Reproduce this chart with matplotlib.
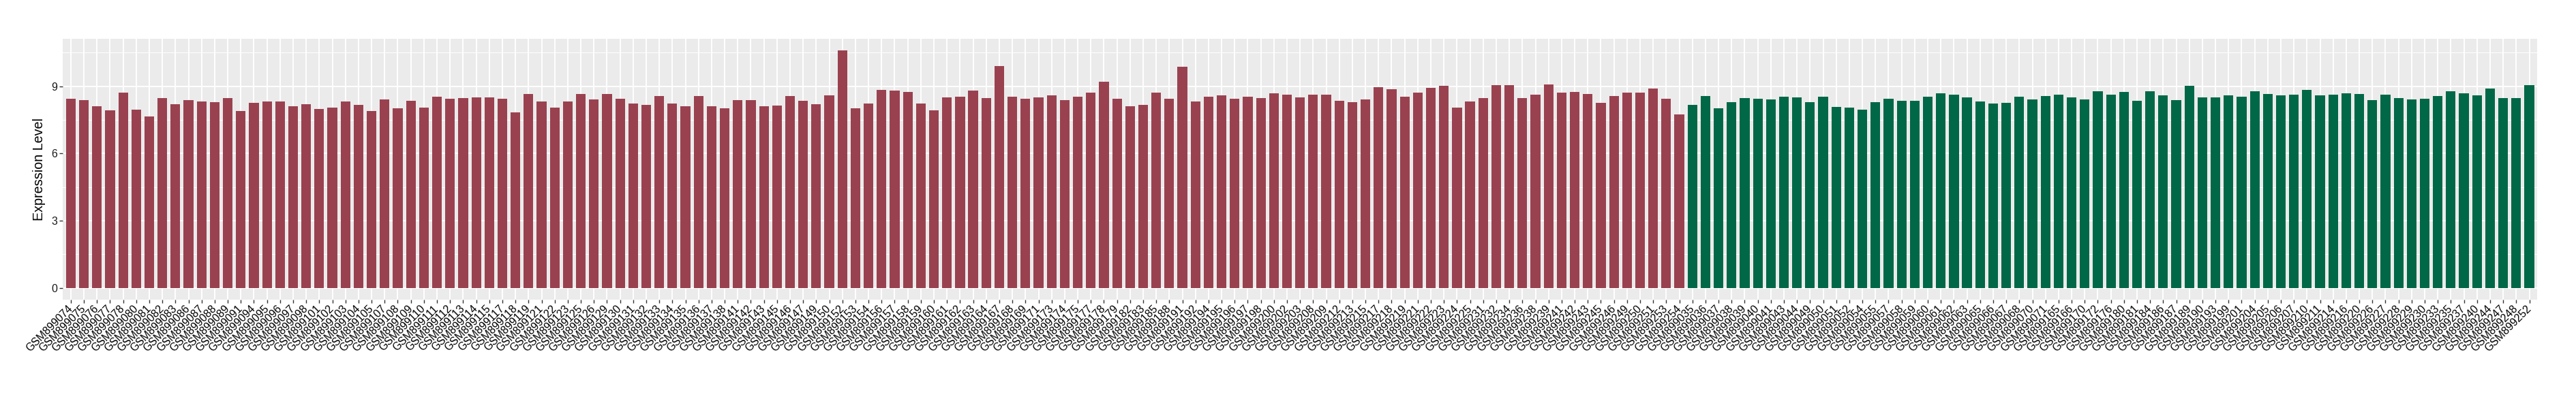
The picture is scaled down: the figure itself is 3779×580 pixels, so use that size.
import matplotlib
matplotlib.use("Agg")
import matplotlib.pyplot as plt
from matplotlib.ticker import FixedLocator

plt.rcParams['font.family'] = ['Liberation Sans', 'DejaVu Sans']

# group 1 (red)
red_samples = [
    'GSM899074', 'GSM899075', 'GSM899076', 'GSM899077', 'GSM899078', 'GSM899080',
    'GSM899081', 'GSM899082', 'GSM899083', 'GSM899086', 'GSM899087', 'GSM899088',
    'GSM899089', 'GSM899091', 'GSM899094', 'GSM899095', 'GSM899096', 'GSM899097',
    'GSM899098', 'GSM899101', 'GSM899102', 'GSM899103', 'GSM899104', 'GSM899105',
    'GSM899107', 'GSM899108', 'GSM899109', 'GSM899110', 'GSM899111', 'GSM899112',
    'GSM899113', 'GSM899114', 'GSM899115', 'GSM899117', 'GSM899118', 'GSM899119',
    'GSM899121', 'GSM899122', 'GSM899123', 'GSM899125', 'GSM899126', 'GSM899129',
    'GSM899130', 'GSM899131', 'GSM899132', 'GSM899133', 'GSM899134', 'GSM899135',
    'GSM899136', 'GSM899137', 'GSM899138', 'GSM899141', 'GSM899142', 'GSM899143',
    'GSM899145', 'GSM899146', 'GSM899147', 'GSM899149', 'GSM899150', 'GSM899152',
    'GSM899153', 'GSM899154', 'GSM899156', 'GSM899157', 'GSM899158', 'GSM899159',
    'GSM899160', 'GSM899161', 'GSM899162', 'GSM899163', 'GSM899164', 'GSM899167',
    'GSM899168', 'GSM899169', 'GSM899171', 'GSM899173', 'GSM899174', 'GSM899175',
    'GSM899177', 'GSM899178', 'GSM899179', 'GSM899182', 'GSM899183', 'GSM899185',
    'GSM899188', 'GSM899191', 'GSM899192', 'GSM899194', 'GSM899195', 'GSM899196',
    'GSM899197', 'GSM899198', 'GSM899200', 'GSM899202', 'GSM899203', 'GSM899208',
    'GSM899209', 'GSM899212', 'GSM899213', 'GSM899215', 'GSM899217', 'GSM899218',
    'GSM899219', 'GSM899221', 'GSM899222', 'GSM899223', 'GSM899224', 'GSM899225',
    'GSM899231', 'GSM899232', 'GSM899234', 'GSM899236', 'GSM899238', 'GSM899239',
    'GSM899241', 'GSM899242', 'GSM899243', 'GSM899245', 'GSM899246', 'GSM899249',
    'GSM899250', 'GSM899251', 'GSM899253', 'GSM899254',
]
red_values = [
    8.44, 8.38, 8.10, 7.92, 8.71, 7.96, 7.65, 8.47, 8.19, 8.38, 8.31, 8.28,
    8.47, 7.89, 8.26, 8.31, 8.31, 8.10, 8.19, 7.98, 8.04, 8.31, 8.17, 7.89,
    8.40, 8.01, 8.35, 8.04, 8.53, 8.44, 8.47, 8.49, 8.49, 8.44, 7.83, 8.65,
    8.31, 8.04, 8.31, 8.65, 8.40, 8.65, 8.44, 8.22, 8.17, 8.56, 8.22, 8.10,
    8.56, 8.10, 8.01, 8.38, 8.38, 8.10, 8.13, 8.56, 8.35, 8.19, 8.60, 10.60,
    8.01, 8.22, 8.83, 8.80, 8.74, 8.22, 7.92, 8.49, 8.53, 8.80, 8.47, 9.90,
    8.53, 8.44, 8.49, 8.60, 8.38, 8.53, 8.71, 9.20, 8.44, 8.10, 8.17, 8.71,
    8.44, 9.87, 8.31, 8.53, 8.60, 8.44, 8.53, 8.47, 8.69, 8.62, 8.49, 8.62,
    8.62, 8.35, 8.28, 8.40, 8.96, 8.87, 8.53, 8.71, 8.92, 9.01, 8.04, 8.31,
    8.47, 9.04, 9.04, 8.47, 8.62, 9.08, 8.71, 8.74, 8.65, 8.26, 8.56, 8.71,
    8.71, 8.90, 8.44, 7.74,
]

# group 2 (green)
green_samples = [
    'GSM899035', 'GSM899036', 'GSM899037', 'GSM899038', 'GSM899039', 'GSM899040',
    'GSM899041', 'GSM899043', 'GSM899044', 'GSM899049', 'GSM899050', 'GSM899051',
    'GSM899052', 'GSM899054', 'GSM899055', 'GSM899057', 'GSM899058', 'GSM899059',
    'GSM899060', 'GSM899061', 'GSM899062', 'GSM899063', 'GSM899065', 'GSM899066',
    'GSM899067', 'GSM899068', 'GSM899070', 'GSM899071', 'GSM899165', 'GSM899166',
    'GSM899170', 'GSM899172', 'GSM899176', 'GSM899180', 'GSM899181', 'GSM899184',
    'GSM899186', 'GSM899187', 'GSM899189', 'GSM899190', 'GSM899193', 'GSM899199',
    'GSM899201', 'GSM899204', 'GSM899205', 'GSM899206', 'GSM899207', 'GSM899210',
    'GSM899211', 'GSM899214', 'GSM899216', 'GSM899220', 'GSM899226', 'GSM899227',
    'GSM899228', 'GSM899229', 'GSM899230', 'GSM899233', 'GSM899235', 'GSM899237',
    'GSM899240', 'GSM899244', 'GSM899247', 'GSM899248', 'GSM899252',
]
green_values = [
    8.17, 8.56, 8.01, 8.28, 8.47, 8.44, 8.40, 8.53, 8.49, 8.28, 8.53, 8.08,
    8.04, 7.96, 8.28, 8.44, 8.35, 8.35, 8.53, 8.69, 8.62, 8.49, 8.31, 8.22,
    8.26, 8.53, 8.40, 8.56, 8.62, 8.49, 8.40, 8.78, 8.62, 8.74, 8.35, 8.78,
    8.60, 8.38, 9.01, 8.49, 8.49, 8.60, 8.53, 8.78, 8.65, 8.60, 8.62, 8.83,
    8.60, 8.62, 8.69, 8.65, 8.38, 8.62, 8.47, 8.40, 8.44, 8.56, 8.78, 8.69,
    8.60, 8.90, 8.47, 8.47, 9.04,
]

y_ticks = [0, 3, 6, 9]
y_minor = [1.5, 4.5, 7.5, 10.5]

red_color = '#9A4150'
green_color = '#006847'

samples = red_samples + green_samples
values = red_values + green_values
colors = [red_color] * len(red_samples) + [green_color] * len(green_samples)
x = list(range(len(samples)))

fig = plt.figure(figsize=(37.8, 5.8), dpi=100)
ax = fig.add_axes([0.02444, 0.2414, 0.98466 - 0.02444, 0.9024 - 0.2414])

ax.set_facecolor('#EBEBEB')
for s in ax.spines.values():
    s.set_visible(False)

ax.bar(x, values, width=0.74, color=colors, zorder=3)

ymax = max(values)
pad = 0.05 * ymax
ax.set_ylim(-pad, ymax + pad)
ax.set_xlim(-0.6, len(samples) - 1 + 0.6)

ax.set_yticks(y_ticks)
ax.yaxis.set_minor_locator(FixedLocator(y_minor))
ax.set_xticks(x)
ax.set_xticklabels(samples, rotation=45, ha='right', va='center',
                   rotation_mode='anchor', fontsize=11.4, color='black')
ax.tick_params(axis='y', labelsize=11.4, labelcolor='#1A1A1A', color='#333333',
               length=3.8, width=1, pad=2)
ax.tick_params(axis='x', color='#333333', length=3.8, width=1, pad=4)
ax.tick_params(axis='y', which='minor', length=0)

ax.grid(True, which='major', color='white', linewidth=1.4, zorder=0)
ax.grid(True, which='minor', axis='y', color='white', linewidth=0.7, zorder=0)
ax.set_axisbelow(True)

ax.set_ylabel('Expression Level', fontsize=14.2, color='black', labelpad=6)

fig.savefig('out.png', dpi=100)
